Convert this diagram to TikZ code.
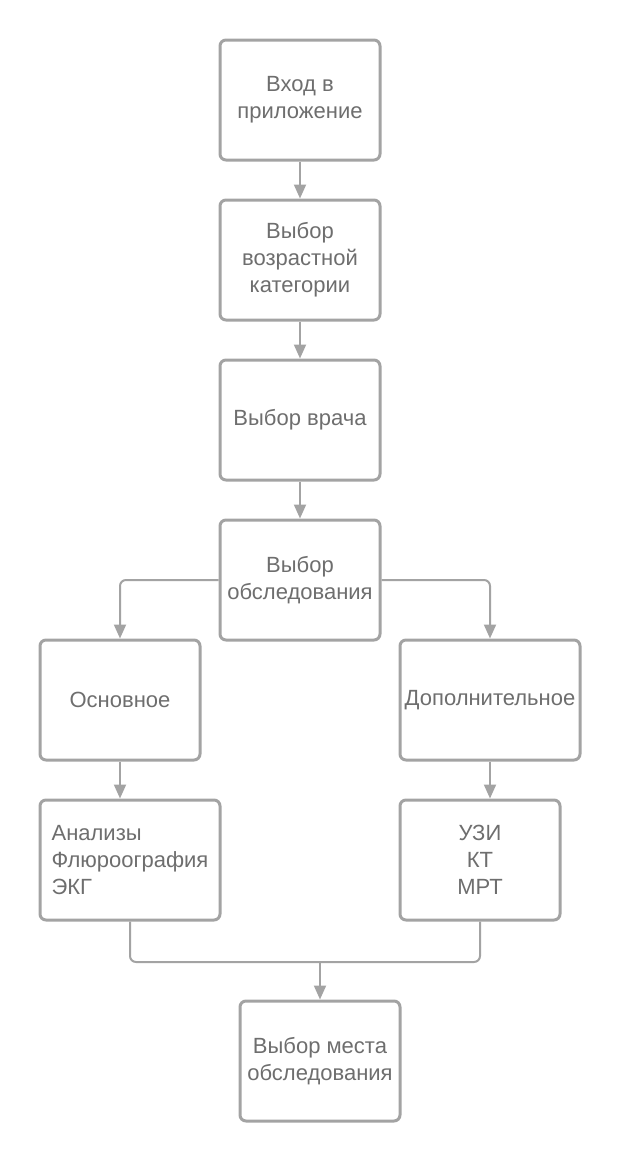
\documentclass[tikz,border=0pt]{standalone}
\usepackage{fontspec}
\setmainfont{Liberation Sans}
\usetikzlibrary{arrows.meta}
\definecolor{linegray}{HTML}{A3A3A3}
\definecolor{textgray}{HTML}{6E6E6E}
\begin{document}
\begin{tikzpicture}[x=1pt,y=-1pt,
  box/.style={draw=linegray, line width=3pt, rounded corners=6pt, fill=white,
    minimum width=160pt, minimum height=120pt, inner sep=1pt,
    text=textgray, font=\fontsize{22}{27}\selectfont, align=center},
  conn/.style={draw=linegray, line width=2pt, -{Triangle[width=12pt,length=14pt]}},
  plain/.style={draw=linegray, line width=2pt}]
\useasboundingbox (0,0) rectangle (620,1163);
\node[box] (b1) at (300,100) {Вход в\\приложение};
\node[box] (b2) at (300,260) {Выбор\\возрастной\\категории};
\node[box] (b3) at (300,420) {Выбор врача};
\node[box] (b4) at (300,580) {Выбор\\обследования};
\node[box] (b5) at (120,700) {Основное};
\node[box, minimum width=180pt] (b6) at (490,700) {Дополнительное};
\node[box, minimum width=180pt, align=left] (b7) at (130,860) {Анализы\\Флюроография\\ЭКГ};
\node[box] (b8) at (480,860) {УЗИ\\КТ\\МРТ};
\node[box] (b9) at (320,1061) {Выбор места\\обследования};
\coordinate (m) at (320,962);
\draw[conn] (b1) -- (b2);
\draw[conn] (b2) -- (b3);
\draw[conn] (b3) -- (b4);
\draw[conn, rounded corners=6pt] (b4.west) -| (b5.north);
\draw[conn, rounded corners=6pt] (b4.east) -| (b6.north);
\draw[conn] (b5.south) -- (b5.south |- b7.north);
\draw[conn] (b6.south) -- (b6.south |- b8.north);
\draw[plain, rounded corners=6pt] (b7.south) |- (m);
\draw[plain, rounded corners=6pt] (b8.south) |- (m);
\draw[conn] (m) -- (b9.north);
\end{tikzpicture}
\end{document}
